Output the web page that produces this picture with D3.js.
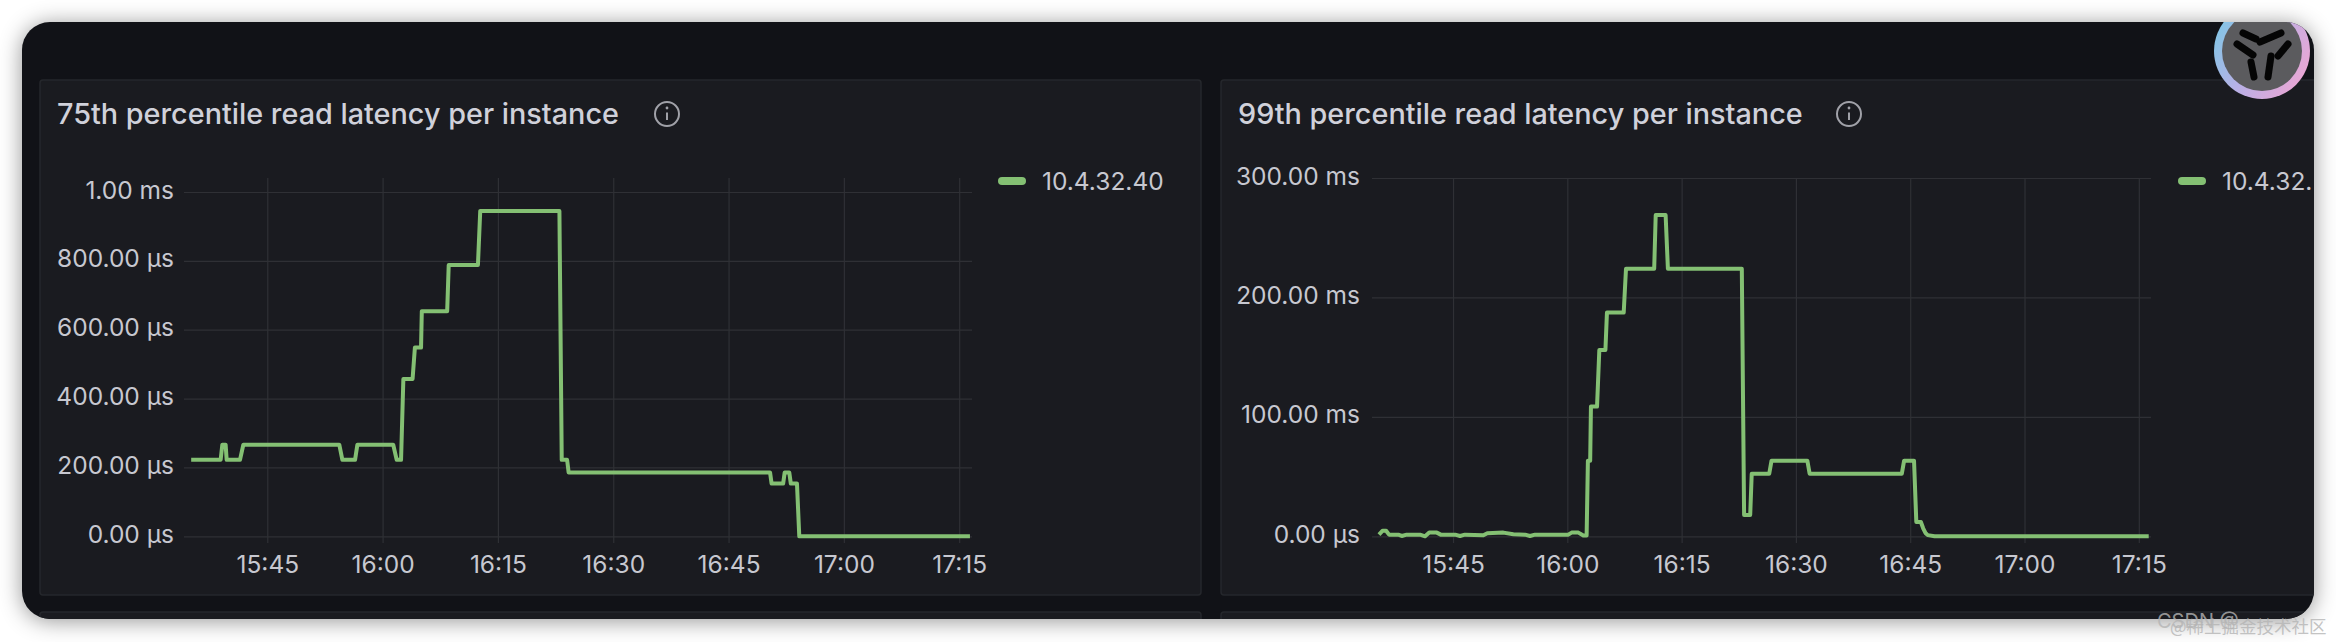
<!doctype html>
<html lang='en'>

<head>
    <title>Read latency per instance</title>
    <script src='https://cdnjs.cloudflare.com/ajax/libs/d3/7.8.5/d3.min.js'></script>
    <style>
        html, body {
            margin: 0;
            background: white;
            overflow: hidden;
        }

        text {
            font-family: Inter, 'Noto Sans', sans-serif;
        }

        .window-bg {
            fill: #111217;
            filter: drop-shadow(0 2px 11px rgba(0, 0, 0, 0.42));
        }

        .panel {
            fill: #1a1b20;
            stroke: #25272c;
            stroke-width: 1.5px;
        }

        .title {
            fill: #d0d1da;
            font-size: 28.8px;
            font-weight: 500;
        }

        .axis path {
            display: none;
        }

        .axis line {
            stroke: #2f3035;
            stroke-width: 1.2px;
        }

        .axis text, .legend-label {
            fill: #c7c8d0;
            font-size: 24.5px;
        }

        .series {
            fill: none;
            stroke: #84c073;
            stroke-width: 4px;
            stroke-linejoin: round;
        }

        .legend-key {
            fill: #84c073;
        }

        .info {
            fill: none;
            stroke: #a0a1a8;
            stroke-width: 2px;
        }

        .watermark {
            fill: #b4b4b4;
            fill-opacity: 0.8;
        }
    </style>
</head>

<body>
<svg id='chart' width='2336' height='642'></svg>

<script>
    const instanceName = '10.4.32.40';
    const timeTicks = ['15:45', '16:00', '16:15', '16:30', '16:45', '17:00', '17:15'];

    // 75th percentile, microseconds
    const p75Ticks = [0, 200, 400, 600, 800, 1000];
    const p75Times = ['15:35:06', '15:38:56', '15:39:09', '15:39:35', '15:39:43', '15:41:27', '15:41:53',
        '15:54:22', '15:54:46', '15:56:25', '15:56:43', '16:01:23', '16:01:50', '16:02:24', '16:02:42',
        '16:03:54', '16:04:12', '16:05:00', '16:05:06', '16:08:24', '16:08:36', '16:12:24', '16:12:42',
        '16:23:00', '16:23:18', '16:24:00', '16:24:12', '16:50:24', '16:50:36', '16:52:06', '16:52:18',
        '16:52:54', '16:53:06', '16:53:54', '16:54:12', '17:16:24'];
    const p75Values = [222, 222, 266, 266, 222, 222, 266,
        266, 222, 222, 266, 266, 222, 222, 457,
        457, 548, 548, 654, 654, 788, 788, 945,
        945, 222, 222, 185, 185, 153, 153, 185,
        185, 153, 153, 0, 0];

    // 99th percentile, milliseconds
    const p99Ticks = [0, 100, 200, 300];
    const p99Times = ['15:35:17', '15:35:46', '15:36:13', '15:36:36', '15:37:49', '15:38:16', '15:38:55',
        '15:40:40', '15:41:20', '15:41:53', '15:42:52', '15:43:23', '15:45:16', '15:45:55', '15:46:34',
        '15:48:59', '15:49:30', '15:51:36', '15:52:55', '15:54:27', '15:55:06', '15:55:46', '16:00:08',
        '16:00:34', '16:01:27', '16:02:06', '16:02:32', '16:02:42', '16:03:00', '16:03:06', '16:03:54',
        '16:04:12', '16:05:00', '16:05:12', '16:07:24', '16:07:42', '16:11:24', '16:11:36', '16:12:54',
        '16:13:12', '16:22:54', '16:23:12', '16:24:00', '16:24:12', '16:26:30', '16:26:48', '16:31:30',
        '16:31:48', '16:43:54', '16:44:12', '16:45:30', '16:45:48', '16:46:24', '16:46:42', '16:47:00',
        '16:47:18', '16:48:12', '17:16:18'];
    const p99Values = [1.4, 4.7, 4.7, 1.4, 1.4, 0.3, 1.4,
        1.4, 0, 3.1, 3.1, 1.4, 1.4, 0.3, 1.4,
        0.8, 2.5, 3.1, 1.7, 1.4, 0.3, 1.4, 1.4,
        3.1, 3.1, 0.6, 0.6, 63.3, 63.3, 108.6, 108.6,
        156, 156, 187.3, 187.3, 224, 224, 269, 269,
        224, 224, 17.8, 17.8, 52.4, 52.4, 63.3, 63.3,
        52.4, 52.4, 63.3, 63.3, 12, 12, 6.7, 2.8,
        1, 0, 0];

    const parseTime = d3.timeParse('%H:%M:%S');
    const clock = t => parseTime(t + ':00');

    const formatMicros = d => d >= 1000 ? (d / 1000).toFixed(2) + ' ms' : d.toFixed(2) + ' µs';
    const formatMillis = d => d === 0 ? '0.00 µs' : d.toFixed(2) + ' ms';

    const svg = d3.select('#chart');
    const defs = svg.append('defs');

    defs.append('clipPath').attr('id', 'window-clip')
        .append('rect')
        .attr('x', 22).attr('y', 22)
        .attr('width', 2292).attr('height', 597)
        .attr('rx', 28);

    // the legend of the right panel is cut a little before the window edge
    defs.append('clipPath').attr('id', 'legend-clip')
        .append('rect')
        .attr('x', 0).attr('y', 0)
        .attr('width', 2312).attr('height', 642);

    const ring = defs.append('linearGradient').attr('id', 'ring')
        .attr('x1', '0%').attr('y1', '15%')
        .attr('x2', '100%').attr('y2', '70%');
    ring.append('stop').attr('offset', '0%').attr('stop-color', '#7cc8e6');
    ring.append('stop').attr('offset', '50%').attr('stop-color', '#b9b0e6');
    ring.append('stop').attr('offset', '100%').attr('stop-color', '#eaa6d4');

    svg.append('rect').attr('class', 'window-bg')
        .attr('x', 22).attr('y', 22)
        .attr('width', 2292).attr('height', 597)
        .attr('rx', 28);

    const content = svg.append('g').attr('clip-path', 'url(#window-clip)');

    // the next row of panels just shows at the bottom
    content.append('rect').attr('class', 'panel')
        .attr('x', 40).attr('y', 612).attr('width', 1161).attr('height', 40).attr('rx', 3);
    content.append('rect').attr('class', 'panel')
        .attr('x', 1221).attr('y', 612).attr('width', 1161).attr('height', 40).attr('rx', 3);

    function drawPanel(opts) {
        const g = content.append('g');

        g.append('rect').attr('class', 'panel')
            .attr('x', opts.panelX).attr('y', 80)
            .attr('width', 1161).attr('height', 515)
            .attr('rx', 3);

        g.append('text').attr('class', 'title')
            .attr('x', opts.panelX + opts.titleInset).attr('y', 124)
            .text(opts.title);

        const infoX = opts.infoX, infoY = 114;
        g.append('circle').attr('class', 'info')
            .attr('cx', infoX).attr('cy', infoY).attr('r', 12);
        g.append('line').attr('class', 'info')
            .attr('x1', infoX).attr('x2', infoX)
            .attr('y1', infoY - 1.5).attr('y2', infoY + 6);
        g.append('circle').attr('cx', infoX).attr('cy', infoY - 6).attr('r', 1.4).attr('fill', '#a0a1a8');

        const x = d3.scaleTime()
            .domain([parseTime(opts.timeStart), parseTime(opts.timeEnd)])
            .range(opts.xRange);
        const y = d3.scaleLinear()
            .domain(opts.yDomain)
            .range(opts.yRange);

        g.append('g').attr('class', 'axis')
            .attr('transform', 'translate(0,543)')
            .call(d3.axisBottom(x)
                .tickValues(timeTicks.map(clock))
                .tickFormat(d3.timeFormat('%H:%M'))
                .tickSize(-365)
                .tickPadding(13));

        g.append('g').attr('class', 'axis')
            .attr('transform', `translate(${opts.xRange[0]},0)`)
            .call(d3.axisLeft(y)
                .tickValues(opts.yTicks)
                .tickFormat(opts.yFormat)
                .tickSize(-(opts.xRange[1] - opts.xRange[0]))
                .tickPadding(opts.yPadding))
            .selectAll('text').attr('dy', '0.25em');

        const line = d3.line()
            .x((d, i) => x(parseTime(opts.times[i])))
            .y(d => y(d));

        g.append('path').attr('class', 'series')
            .attr('d', line(opts.values));

        g.append('rect').attr('class', 'legend-key')
            .attr('x', opts.legendX).attr('y', 177)
            .attr('width', 28).attr('height', 8).attr('rx', 4);
        g.append('text').attr('class', 'legend-label')
            .attr('x', opts.legendX + 44).attr('y', 189.5)
            .attr('clip-path', 'url(#legend-clip)')
            .text(instanceName);
    }

    drawPanel({
        title: '75th percentile read latency per instance',
        panelX: 40,
        titleInset: 17,
        infoX: 667,
        timeStart: '15:34:10',
        timeEnd: '17:16:40',
        xRange: [184, 972],
        yDomain: [0, 1000],
        yRange: [536.3, 192],
        yTicks: p75Ticks,
        yFormat: formatMicros,
        yPadding: 10,
        times: p75Times,
        values: p75Values,
        legendX: 998
    });

    drawPanel({
        title: '99th percentile read latency per instance',
        panelX: 1221,
        titleInset: 17,
        infoX: 1849,
        timeStart: '15:34:22',
        timeEnd: '17:16:36',
        xRange: [1372, 2151],
        yDomain: [0, 300],
        yRange: [536.3, 178],
        yTicks: p99Ticks,
        yFormat: formatMillis,
        yPadding: 12,
        times: p99Times,
        values: p99Values,
        legendX: 2178
    });

    // round badge at the top right corner
    const badge = content.append('g').attr('transform', 'translate(2262,51)');
    badge.append('circle').attr('r', 48).attr('fill', 'url(#ring)');
    badge.append('circle').attr('r', 40).attr('fill', '#5b5b5e');
    const badgeStrokes = [
        [-19, -18, -6, -12], [19, -18, -2, -9], [-25, -7, -9, 4],
        [-11, 11, -8, 26], [9, 5, 6, 26], [26, -7, 16, 5]
    ];
    badge.selectAll('line').data(badgeStrokes).enter().append('line')
        .attr('x1', d => d[0]).attr('y1', d => d[1])
        .attr('x2', d => d[2]).attr('y2', d => d[3])
        .attr('stroke', '#050505').attr('stroke-width', 7).attr('stroke-linecap', 'round');

    // watermarks
    svg.append('text').attr('class', 'watermark')
        .attr('x', 2157).attr('y', 628)
        .style('font-size', '20px')
        .text('CSDN @');
    svg.append('text').attr('class', 'watermark')
        .attr('x', 2170).attr('y', 633)
        .style('font-family', "'Noto Sans CJK SC'")
        .style('font-size', '17.5px')
        .text('@稀土掘金技术社区');
</script>

</body>

</html>
